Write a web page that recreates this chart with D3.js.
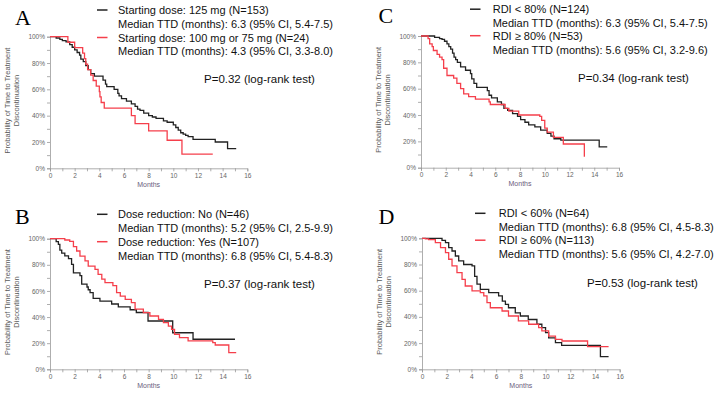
<!DOCTYPE html>
<html>
<head>
<meta charset="utf-8">
<script src="https://cdn.jsdelivr.net/npm/d3@7"></script>
<style>
  body { margin: 0; background: #fff; }
  svg { display: block; }
</style>
</head>
<body>
<div id="chart"></div>
<script>
// KM step points: [month, % remaining after the drop]; last pair = end of follow-up
const aBlack = [[0.5,99],[0.8,98],[1.0,97],[1.3,96],[1.6,94],[1.8,92],[2.0,90],[2.2,88],[2.4,86],[2.5,83],[2.7,81],[2.9,78],[3.1,75],[3.3,72],[3.6,70],[4.3,67],[4.5,64],[4.6,62],[5.2,60],[5.5,57],[5.6,55],[5.8,53],[6.2,51],[6.6,49],[6.9,47],[7.1,45],[7.3,44],[7.6,42],[8.0,40],[8.3,39],[8.6,38],[9.2,36],[9.5,35],[10.0,33],[10.2,31],[10.4,29],[10.6,27],[10.8,26],[11.0,25],[11.2,24],[11.6,22],[13.4,20],[14.4,15],[15.1,15]];
const aRed = [[1.45,95.8],[2.0,91.7],[2.65,87.5],[2.8,83.3],[2.9,79.2],[3.05,75],[3.3,70.8],[3.5,66.7],[3.75,62.5],[4.0,58.3],[4.05,54.2],[4.15,50],[4.4,45.8],[6.6,40],[6.9,34],[8.0,28.5],[9.5,21.3],[10.7,10.7],[13.2,10.7]];

const bBlack = [[0.5,97.8],[0.68,95.7],[0.8,91.3],[0.95,89],[1.2,86.9],[1.5,84.8],[1.75,80.4],[1.9,73.9],[2.43,71.7],[2.57,65.2],[3.0,63],[3.1,60.9],[3.25,58.7],[3.5,54.3],[4.05,52.2],[5.0,50],[5.54,47.8],[6.5,45.6],[7.0,43.5],[7.95,37],[9.95,28],[11.6,23],[15.0,23]];
const bRed = [[1.2,99],[1.6,98],[1.9,94],[2.16,90.6],[2.43,86.7],[2.84,83],[3.1,79],[3.65,76.5],[3.9,72.7],[4.2,69],[4.46,66.3],[5.1,64],[5.4,58.7],[5.7,56],[6.1,53.6],[6.6,51],[6.9,46],[7.57,43.4],[8.1,40.8],[8.8,38.3],[9.2,35.7],[9.6,33],[9.86,30.6],[10.1,26.8],[10.5,24.2],[11.2,21.7],[13.2,20.4],[13.4,18.6],[14.5,12.8],[15.1,12.8]];

const cBlack = [[1.1,99],[1.5,98],[1.7,97.5],[1.9,96],[2.1,94],[2.25,92],[2.4,90],[2.55,87],[2.67,84],[2.8,82],[2.94,80],[3.2,76.5],[3.6,74],[4.0,71.5],[4.1,67.5],[4.28,64],[4.5,61],[5.36,58.5],[5.5,55],[5.7,53],[6.17,50],[6.5,48],[6.7,45],[7.0,43.5],[7.4,41],[7.8,39],[8.05,36.5],[8.4,34.5],[8.7,32.5],[9.2,31],[9.67,28.5],[10.2,26],[10.5,24],[10.75,22],[11.3,21],[14.4,15.8],[15.05,15.8]];
const cRed = [[0.57,98],[0.7,94],[0.9,92],[1.0,89],[1.3,86],[1.5,84],[1.7,82],[1.83,75.5],[2.1,70],[2.64,68],[2.9,64],[3.2,60],[3.45,56],[3.85,54],[4.4,52],[5.5,50],[5.6,48],[6.8,45],[7.1,43],[7.9,40],[9.6,39],[9.75,36],[10.0,30],[10.2,27],[10.7,23],[11.5,18],[13.2,8.9],[13.25,8.9]];

const dBlack = [[1.62,98.4],[1.9,96.7],[2.16,92.9],[2.43,90.3],[2.7,86.5],[2.97,82.7],[3.37,80],[4.05,78.9],[4.26,71],[4.45,65],[4.72,61],[5.4,58.5],[6.2,56],[6.5,52],[6.75,49.6],[7.0,47],[7.55,43],[7.96,40.7],[8.6,38],[9.3,34.4],[9.7,31.8],[10.0,28],[10.25,24],[10.8,20.4],[11.3,18.3],[14.44,9.7],[15.1,9.7]];
const dRed = [[0.27,99.5],[0.54,99],[1.08,96.7],[1.5,92.9],[1.9,89],[2.16,84],[2.43,79],[2.83,73.8],[3.24,68.7],[3.5,63.6],[4.05,59.8],[4.72,58.5],[5.0,56],[5.26,50.9],[5.53,47],[6.48,44.5],[7.0,40.7],[7.8,36.9],[8.63,34.4],[9.44,31.8],[9.7,29.3],[10.25,25.4],[10.8,22.9],[11.33,21.6],[13.4,17.3],[15.1,17.3]];

const legendA = ["Starting dose: 125 mg (N=153)", "Median TTD (months): 6.3 (95% CI, 5.4-7.5)", "Starting dose: 100 mg or 75 mg (N=24)", "Median TTD (months): 4.3 (95% CI, 3.3-8.0)"];
const legendB = ["Dose reduction: No (N=46)", "Median TTD (months): 5.2 (95% CI, 2.5-9.9)", "Dose reduction: Yes (N=107)", "Median TTD (months): 6.8 (95% CI, 5.4-8.3)"];
const legendC = ["RDI < 80% (N=124)", "Median TTD (months): 6.3 (95% CI, 5.4-7.5)", "RDI \u2265 80% (N=53)", "Median TTD (months): 5.6 (95% CI, 3.2-9.6)"];
const legendD = ["RDI < 60% (N=64)", "Median TTD (months): 6.8 (95% CI, 4.5-8.3)", "RDI \u2265 60% (N=113)", "Median TTD (months): 5.6 (95% CI, 4.2-7.0)"];
const pTexts = ["P=0.32 (log-rank test)", "P=0.37 (log-rank test)", "P=0.34 (log-rank test)", "P=0.53 (log-rank test)"];
const letters = ["A", "B", "C", "D"];
const xTicks = [0, 2, 4, 6, 8, 10, 12, 14, 16];
const yTicks = [0, 20, 40, 60, 80, 100];

const W = 724, H = 393;
const BLACK = "#222", RED = "#f53f4b";

const svg = d3.select("#chart").append("svg")
  .attr("width", W).attr("height", H);

// layout of each panel (pixel positions)
const panels = [
  {letter: letters[0], black: aBlack, red: aRed, legend: legendA, p: pTexts[0],
   x0: 50, x1: 247.3, yT: 36.7, yB: 168.3, lx: 15, ly: 25,
   legX: 97, txtX: 118, rows: [14, 27.6, 41.5, 55.4], pX: 204, pY: 83},
  {letter: letters[1], black: bBlack, red: bRed, legend: legendB, p: pTexts[1],
   x0: 50, x1: 247.3, yT: 238.7, yB: 369.3, lx: 15, ly: 224,
   legX: 97, txtX: 118, rows: [218.3, 231.9, 245.7, 259.6], pX: 204, pY: 288},
  {letter: letters[2], black: cBlack, red: cRed, legend: legendC, p: pTexts[2],
   x0: 421, x1: 619, yT: 36, yB: 167.7, lx: 378.5, ly: 23,
   legX: 470, txtX: 492.7, rows: [13.2, 26.6, 39.7, 53.6], pX: 578, pY: 82},
  {letter: letters[3], black: dBlack, red: dRed, legend: legendD, p: pTexts[3],
   x0: 422, x1: 619.7, yT: 238.3, yB: 369.3, lx: 378.5, ly: 224,
   legX: 475, txtX: 498.7, rows: [217.3, 230.8, 244.2, 258.3], pX: 587, pY: 287}
];

panels.forEach(pn => {
  const g = svg.append("g");

  const x = d3.scaleLinear().domain([0, 16]).range([pn.x0, pn.x1]);
  const y = d3.scaleLinear().domain([0, 100]).range([pn.yB, pn.yT]);

  // panel letter
  g.append("text")
    .attr("x", pn.lx).attr("y", pn.ly)
    .style("font-family", "'Liberation Serif', 'Times New Roman', serif")
    .style("font-size", "22px")
    .text(pn.letter);

  // x axis
  const xAxis = g.append("g")
    .attr("transform", `translate(0,${pn.yB})`)
    .call(d3.axisBottom(x).tickValues(d3.range(0, 17, 1)).tickSize(3)
      .tickFormat(d => xTicks.includes(d) ? d : ""));
  // y axis
  const yAxis = g.append("g")
    .attr("transform", `translate(${pn.x0},0)`)
    .call(d3.axisLeft(y).tickValues(d3.range(0, 101, 10)).tickSize(3)
      .tickFormat(d => yTicks.includes(d) ? d + "%" : ""));

  [xAxis, yAxis].forEach(ax => {
    ax.select(".domain").attr("stroke", "#999").attr("stroke-width", 0.8);
    ax.selectAll(".tick line").attr("stroke", "#999").attr("stroke-width", 0.8);
    ax.selectAll("text")
      .attr("fill", "#666")
      .style("font-family", "'Liberation Sans', Arial, sans-serif")
      .style("font-size", "6.5px");
  });
  xAxis.selectAll("text").attr("y", 5);
  yAxis.selectAll("text").attr("x", -5);

  // axis titles
  g.append("text")
    .attr("x", (pn.x0 + pn.x1) / 2).attr("y", pn.yB + 18.5)
    .attr("text-anchor", "middle")
    .attr("fill", "#6a5c7c")
    .style("font-family", "'Liberation Sans', Arial, sans-serif")
    .style("font-size", "7px")
    .text("Months");

  const yMid = (pn.yT + pn.yB) / 2 - 2;
  [["Probability of Time to Treatment", -40.3], ["Discontinuation", -30.9]].forEach(([t, dx]) => {
    g.append("text")
      .attr("transform", `translate(${pn.x0 + dx},${yMid}) rotate(-90)`)
      .attr("text-anchor", "middle")
      .attr("fill", "#5a5a5a")
      .style("font-family", "'Liberation Sans', Arial, sans-serif")
      .style("font-size", "7.5px")
      .text(t);
  });

  // survival curves
  const line = d3.line()
    .curve(d3.curveStepAfter)
    .x(d => x(d[0]))
    .y(d => y(d[1]));

  [[pn.black, BLACK], [pn.red, RED]].forEach(([pts, col]) => {
    g.append("path")
      .datum([[0, 100]].concat(pts))
      .attr("fill", "none")
      .attr("stroke", col)
      .attr("stroke-width", 1.3)
      .attr("d", line);
  });

  // legend
  [[0, BLACK], [2, RED]].forEach(([i, col]) => {
    g.append("line")
      .attr("x1", pn.legX).attr("x2", pn.legX + 10.5)
      .attr("y1", pn.rows[i] - 4).attr("y2", pn.rows[i] - 4)
      .attr("stroke", col).attr("stroke-width", 1.5);
  });
  pn.legend.forEach((t, i) => {
    g.append("text")
      .attr("x", pn.txtX).attr("y", pn.rows[i])
      .attr("fill", "#111")
      .style("font-family", "'Liberation Sans', Arial, sans-serif")
      .style("font-size", "11px")
      .text(t);
  });

  g.append("text")
    .attr("x", pn.pX).attr("y", pn.pY)
    .attr("fill", "#111")
    .style("font-family", "'Liberation Sans', Arial, sans-serif")
    .style("font-size", "11.5px")
    .text(pn.p);
});
</script>
</body>
</html>
